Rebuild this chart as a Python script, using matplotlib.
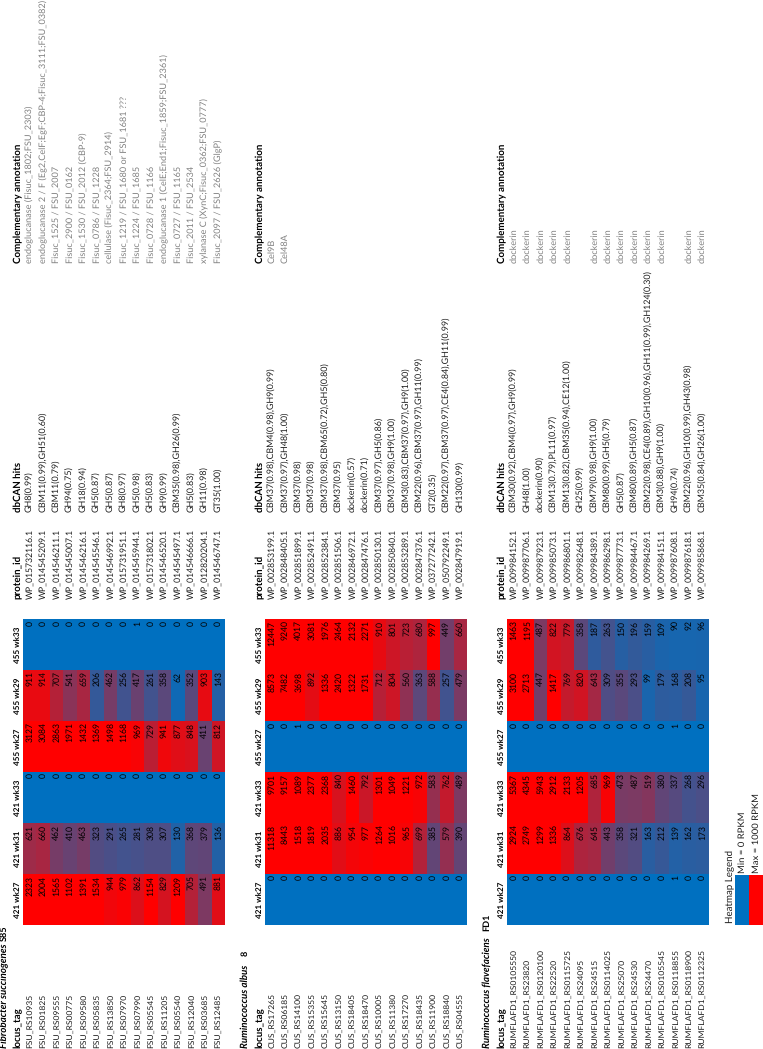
# Rotated heatmap tables of RPKM per locus for three rumen species
import numpy as np
import matplotlib
matplotlib.use('Agg')
import matplotlib.pyplot as plt
from matplotlib.colors import LinearSegmentedColormap

plt.rcParams['font.family'] = ['Lato', 'DejaVu Sans']
plt.rcParams['text.hinting'] = 'no_hinting'

#-------------------------------------------------------------------------
# Data
samples = ['421 wk27', '421 wk31', '421 wk33', '455 wk27', '455 wk29', '455 wk33']
headers = ['locus_tag', 'protein_id', 'dbCAN hits', 'Complementary annotation']

fs_locus = ['FSU_RS10935', 'FSU_RS01825', 'FSU_RS09555', 'FSU_RS00775', 'FSU_RS09580',
            'FSU_RS05835', 'FSU_RS13850', 'FSU_RS07970', 'FSU_RS07990', 'FSU_RS05545',
            'FSU_RS11205', 'FSU_RS05540', 'FSU_RS12040', 'FSU_RS03685', 'FSU_RS12485']
fs_values = [[2323, 2004, 1565, 1102, 1391, 1534, 944, 979, 862, 1154, 829, 1209, 705, 491, 881],
             [621, 660, 462, 410, 463, 323, 291, 265, 281, 308, 307, 130, 368, 379, 136],
             [0, 0, 0, 0, 0, 0, 0, 0, 0, 0, 0, 0, 0, 0, 0],
             [3127, 3084, 2863, 1971, 1432, 1369, 1498, 1168, 969, 729, 941, 877, 848, 411, 812],
             [911, 914, 707, 541, 659, 206, 462, 256, 417, 261, 358, 62, 352, 903, 143],
             [0, 0, 0, 0, 0, 0, 0, 0, 1, 0, 0, 0, 0, 0, 0]]
fs_protein = ['WP_015732116.1', 'WP_014545209.1', 'WP_014546211.1', 'WP_014545007.1', 'WP_014546216.1',
              'WP_014545546.1', 'WP_014546992.1', 'WP_015731951.1', 'WP_014545944.1', 'WP_015731802.1',
              'WP_014546520.1', 'WP_014545497.1', 'WP_014546666.1', 'WP_012820204.1', 'WP_014546747.1']
fs_dbcan = ['GH8(0.99)', 'CBM11(0.99),GH51(0.60)', 'CBM11(0.79)', 'GH94(0.75)', 'GH18(0.94)',
            'GH5(0.87)', 'GH5(0.87)', 'GH8(0.97)', 'GH5(0.98)', 'GH5(0.83)',
            'GH9(0.99)', 'CBM35(0.98),GH26(0.99)', 'GH5(0.83)', 'GH11(0.98)', 'GT35(1.00)']
fs_note = ['endoglucanase (Fisuc_1802;FSU_2303)',
           'endoglucanase 2 / F (Eg2,CelF;EgF;CBP-4;Fisuc_3111;FSU_0382)',
           'Fisuc_1525 / FSU_2007', 'Fisuc_2900 / FSU_0162', 'Fisuc_1530 / FSU_2012 (CBP-9)',
           'Fisuc_0786 / FSU_1228', 'cellulase (Fisuc_2364;FSU_2914)',
           'Fisuc_1219 / FSU_1680 or FSU_1681 ???', 'Fisuc_1224 / FSU_1685', 'Fisuc_0728 / FSU_1166',
           'endoglucanase 1 (CelE;End1;Fisuc_1859;FSU_2361)', 'Fisuc_0727 / FSU_1165',
           'Fisuc_2011 / FSU_2534', 'xylanase C (XynC;Fisuc_0362;FSU_0777)', 'Fisuc_2097 / FSU_2626 (GlgP)']

ra_locus = ['CUS_RS17265', 'CUS_RS06185', 'CUS_RS14100', 'CUS_RS15355', 'CUS_RS15645',
            'CUS_RS13150', 'CUS_RS18405', 'CUS_RS18470', 'CUS_RS10005', 'CUS_RS11380',
            'CUS_RS17270', 'CUS_RS18435', 'CUS_RS11900', 'CUS_RS18840', 'CUS_RS04555']
ra_values = [[0, 0, 0, 0, 0, 0, 0, 0, 0, 0, 0, 0, 0, 0, 0],
             [11318, 8443, 1518, 1819, 2035, 886, 954, 977, 1264, 1016, 965, 699, 385, 579, 390],
             [9701, 9157, 1089, 2377, 2368, 840, 1460, 792, 1301, 1049, 1221, 972, 583, 762, 489],
             [0, 0, 1, 0, 0, 0, 0, 0, 0, 0, 0, 0, 0, 0, 0],
             [8573, 7482, 3698, 892, 1336, 2420, 1322, 1731, 712, 804, 560, 363, 588, 257, 479],
             [12447, 9240, 4017, 3081, 1976, 2464, 2132, 2271, 910, 801, 723, 680, 997, 449, 660]]
ra_protein = ['WP_002853199.1', 'WP_002848405.1', 'WP_002851899.1', 'WP_002852491.1', 'WP_002852384.1',
              'WP_002851506.1', 'WP_002846972.1', 'WP_002847476.1', 'WP_002850130.1', 'WP_002850840.1',
              'WP_002853289.1', 'WP_002847376.1', 'WP_037277242.1', 'WP_050792249.1', 'WP_002847919.1']
ra_dbcan = ['CBM37(0.98),CBM4(0.98),GH9(0.99)', 'CBM37(0.97),GH48(1.00)', 'CBM37(0.98)', 'CBM37(0.98)',
            'CBM37(0.98),CBM65(0.72),GH5(0.80)', 'CBM37(0.95)', 'dockerin(0.57)', 'dockerin(0.71)',
            'CBM37(0.97),GH5(0.86)', 'CBM37(0.98),GH9(1.00)', 'CBM3(0.83),CBM37(0.97),GH9(1.00)',
            'CBM22(0.96),CBM37(0.97),GH11(0.99)', 'GT2(0.35)',
            'CBM22(0.97),CBM37(0.97),CE4(0.84),GH11(0.99)', 'GH130(0.99)']
ra_note = ['Cel9B', 'Cel48A', '', '', '', '', '', '', '', '', '', '', '', '', '']

rf_locus = ['RUMFLAFD1_RS0105550', 'RUMFLAFD1_RS23820', 'RUMFLAFD1_RS0120100', 'RUMFLAFD1_RS22520',
            'RUMFLAFD1_RS0115725', 'RUMFLAFD1_RS24095', 'RUMFLAFD1_RS24515', 'RUMFLAFD1_RS0114025',
            'RUMFLAFD1_RS25070', 'RUMFLAFD1_RS24530', 'RUMFLAFD1_RS24470', 'RUMFLAFD1_RS0105545',
            'RUMFLAFD1_RS0118855', 'RUMFLAFD1_RS0118900', 'RUMFLAFD1_RS0112325']
rf_values = [[0, 0, 0, 0, 0, 0, 0, 0, 0, 0, 0, 0, 1, 0, 0],
             [2924, 2749, 1299, 1336, 864, 676, 645, 443, 358, 321, 163, 212, 139, 162, 173],
             [5367, 4345, 5943, 2912, 2133, 1205, 685, 969, 473, 487, 519, 380, 337, 268, 296],
             [0, 0, 0, 0, 0, 0, 0, 0, 0, 0, 0, 0, 1, 0, 0],
             [3100, 2713, 447, 1417, 769, 820, 643, 309, 355, 293, 99, 179, 168, 208, 95],
             [1463, 1195, 487, 822, 779, 358, 187, 263, 150, 196, 159, 109, 90, 92, 96]]
rf_protein = ['WP_009984152.1', 'WP_009987706.1', 'WP_009987923.1', 'WP_009985073.1', 'WP_009986801.1',
              'WP_009982648.1', 'WP_009984389.1', 'WP_009986298.1', 'WP_009987773.1', 'WP_009984467.1',
              'WP_009984269.1', 'WP_009984151.1', 'WP_009987608.1', 'WP_009987618.1', 'WP_009985868.1']
rf_dbcan = ['CBM30(0.92),CBM4(0.97),GH9(0.99)', 'GH48(1.00)', 'dockerin(0.90)', 'CBM13(0.79),PL11(0.97)',
            'CBM13(0.82),CBM35(0.94),CE12(1.00)', 'GH25(0.99)', 'CBM79(0.98),GH9(1.00)',
            'CBM80(0.99),GH5(0.79)', 'GH5(0.87)', 'CBM80(0.89),GH5(0.87)',
            'CBM22(0.98),CE4(0.89),GH10(0.96),GH11(0.99),GH124(0.30)', 'CBM3(0.88),GH9(1.00)',
            'GH94(0.74)', 'CBM22(0.96),GH10(0.99),GH43(0.98)', 'CBM35(0.84),GH26(1.00)']
rf_note = ['dockerin', 'dockerin', 'dockerin', 'dockerin', 'dockerin', '', 'dockerin', 'dockerin',
           'dockerin', 'dockerin', 'dockerin', 'dockerin', '', 'dockerin', 'dockerin']

legend_values = [0, 1000]
legend_labels = ['Min = 0 RPKM', 'Max = 1000 RPKM']

#-------------------------------------------------------------------------
# Layout in image pixels
ROW_W = 13.47
COL_H = 51.0
HEAT_BOTTOM = 925.0
LOCUS_Y = 1048
PROTEIN_Y = 599
DBCAN_Y = 512
NOTE_Y = 263
DARK = '#1c1c1c'

cmap = LinearSegmentedColormap.from_list('rpkm', ['#0070C0', '#FF0000'])

fig = plt.figure(figsize=(7.63, 10.49), dpi=100)
ax = fig.add_axes([0, 0, 1, 1])
ax.set_xlim(0, 763)
ax.set_ylim(1049, 0)
ax.axis('off')


def rot(x, y, s, size=6.4, va='bottom', **kw):
    ax.text(x, y, s, rotation=90, ha='center', va=va, fontsize=size, **kw)


def panel(x0, species, strain, strain_gap, title_x, locus, values, protein, dbcan, note):
    values = np.array(values)
    xe = x0 + ROW_W * np.arange(len(locus) + 1)
    ye = HEAT_BOTTOM - COL_H * np.arange(len(samples) + 1)
    ax.pcolormesh(xe, ye, values, cmap=cmap, vmin=0, vmax=1000)
    xc = (xe[:-1] + xe[1:]) / 2
    # titles and header row
    hx = x0 - 4.8
    rot(title_x, LOCUS_Y, species, size=7.0, fontweight='bold', style='italic', color='#000000')
    rot(title_x, LOCUS_Y - strain_gap, strain, size=6.6, fontweight='bold', color='#000000')
    for y, h in zip([LOCUS_Y, PROTEIN_Y, DBCAN_Y, NOTE_Y], headers):
        rot(hx, y, h, size=7.0, fontweight='bold', color='#000000')
    for j, s in enumerate(samples):
        rot(hx, (ye[j] + ye[j + 1]) / 2, s, size=5.9, va='center', fontweight='bold', color='#000000')
    # rows
    for i, x in enumerate(xc):
        rot(x, LOCUS_Y, locus[i], size=6.1, color=DARK)
        rot(x, PROTEIN_Y, protein[i], size=6.2, color=DARK)
        rot(x, DBCAN_Y, dbcan[i], color=DARK)
        if note[i]:
            rot(x, NOTE_Y, note[i], size=6.6, color='#808080')
        for j in range(len(samples)):
            rot(x, ye[j + 1] + 1.5, str(values[j, i]), size=6.2, va='top', color='#000000')


panel(23.0, 'Fibrobacter succinogenes', 'S85', 107, 4, fs_locus, fs_values,
      fs_protein, fs_dbcan, fs_note)
panel(265.0, 'Ruminococcus albus', '8', 92, 245, ra_locus, ra_values,
      ra_protein, ra_dbcan, ra_note)
panel(507.0, 'Ruminococcus flavefaciens', 'FD1', 117, 487, rf_locus, rf_values,
      rf_protein, rf_dbcan, rf_note)

# Heatmap legend
lx = [735.0, 749.0, 763.0]
ax.pcolormesh(lx, [HEAT_BOTTOM, HEAT_BOTTOM - 50], [legend_values], cmap=cmap, vmin=0, vmax=1000)
rot(730, 923, 'Heatmap Legend', size=7.0, color=DARK)
rot(742.5, 873, legend_labels[0], size=6.8, color=DARK)
rot(756, 873, legend_labels[1], size=6.8, color=DARK)

plt.savefig('out.png', dpi=100)
